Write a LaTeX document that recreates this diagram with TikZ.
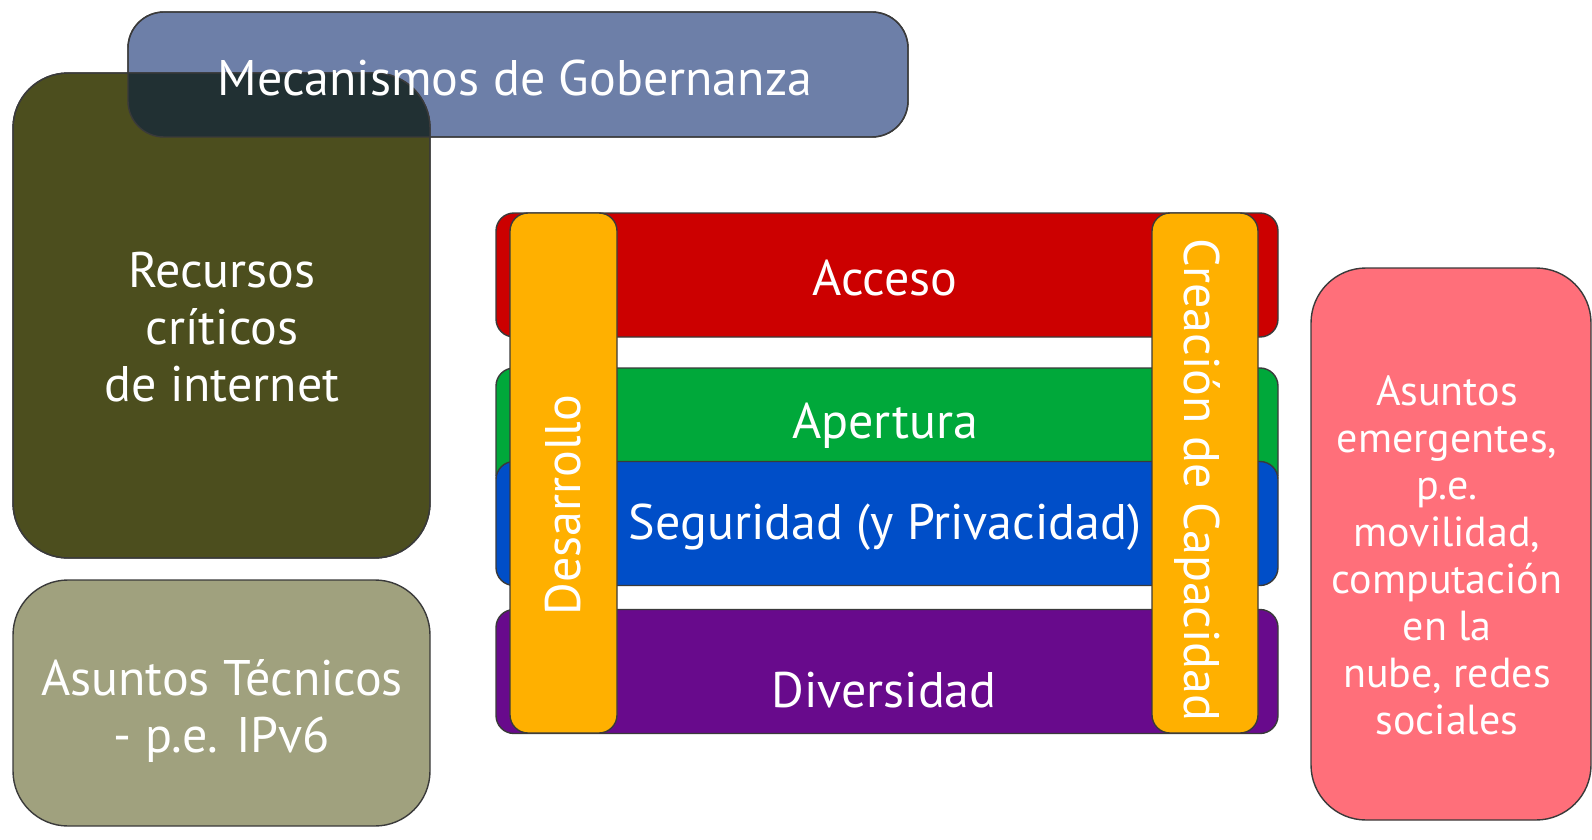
\documentclass[tikz,border=0pt]{standalone}
\usepackage{fontspec}
\setmainfont{PT Sans}
\definecolor{gobblue}{HTML}{6D7FA8}
\definecolor{olivebox}{HTML}{4C4E1E}
\definecolor{overlapc}{HTML}{213033}
\definecolor{grayolive}{HTML}{A0A17E}
\definecolor{pinkbox}{HTML}{FF6F7A}
\definecolor{redbar}{HTML}{CC0000}
\definecolor{greenbar}{HTML}{00A83A}
\definecolor{bluebar}{HTML}{004EC8}
\definecolor{purplebar}{HTML}{680A8C}
\definecolor{orangebar}{HTML}{FFB000}
\definecolor{edgec}{HTML}{3A3A3A}
\tikzset{
  boxbase/.style={rectangle, draw=edgec, line width=1.4pt, inner sep=0pt, outer sep=0pt},
  bigbox/.style={boxbase, rounded corners=55pt},
  barbox/.style={boxbase, rounded corners=18pt, minimum width=782pt, minimum height=124pt},
  vbar/.style={boxbase, rounded corners=18pt, fill=orangebar, minimum height=520pt},
  wtext/.style={text=white, font=\fontsize{50}{57}\selectfont, align=center, inner sep=0pt},
  stext/.style={text=white, font=\fontsize{42}{47}\selectfont, align=center, inner sep=0pt}
}
\begin{document}
\begin{tikzpicture}[x=1pt,y=-1pt]
\useasboundingbox (0,0) rectangle (1592,840);
% Governance and critical resources
\node[bigbox, rounded corners=36pt, fill=gobblue, minimum width=780pt, minimum height=125pt] (gob) at (518,74.5) {};
\node[bigbox, fill=olivebox, minimum width=417pt, minimum height=485pt] (rec) at (221.5,315.5) {};
\begin{scope}
  \clip[rounded corners=55pt] (rec.south west) rectangle (rec.north east);
  \fill[overlapc, rounded corners=36pt] (gob.south west) rectangle (gob.north east);
\end{scope}
\draw[edgec, line width=1.4pt, rounded corners=36pt] (gob.south west) rectangle (gob.north east);
\draw[edgec, line width=1.4pt, rounded corners=55pt] (rec.south west) rectangle (rec.north east);
\node[wtext] (gobt) at (515,78) {Mecanismos de Gobernanza};
\node[wtext] (rect) at (222,327) {Recursos\\críticos\\de internet};
% Technical issues
\node[bigbox, fill=grayolive, minimum width=417pt, minimum height=246pt] (tec) at (221.5,703) {};
\node[wtext] (tect) at (222,711) {Asuntos Técnicos\\- p.e. IPv6};
% Emerging issues
\node[bigbox, fill=pinkbox, minimum width=280pt, minimum height=552pt] (emer) at (1451,544) {};
\node[stext] (emert) at (1447,555) {Asuntos\\emergentes,\\p.e.\\movilidad,\\computación\\en la\\nube, redes\\sociales};
% Horizontal bars
\node[barbox, fill=redbar] (acc) at (887,275) {};
\node[barbox, fill=greenbar] (ape) at (887,430) {};
\node[barbox, fill=bluebar] (seg) at (887,523.5) {};
\node[barbox, fill=purplebar] (div) at (887,671.5) {};
\node[wtext] (acct) at (885,278) {Acceso};
\node[wtext] (apet) at (885,426) {Apertura};
\node[wtext] (segt) at (885,527) {Seguridad (y Privacidad)};
\node[wtext] (divt) at (884,690) {Diversidad};
% Vertical bars
\node[vbar, minimum width=107pt] (des) at (563.5,473) {};
\node[vbar, minimum width=106pt] (cap) at (1205,473) {};
\node[wtext, rotate=90] (dest) at (563,505) {Desarrollo};
\node[wtext, rotate=-90] (capt) at (1197,480) {Creación de Capacidad};
\end{tikzpicture}
\end{document}
